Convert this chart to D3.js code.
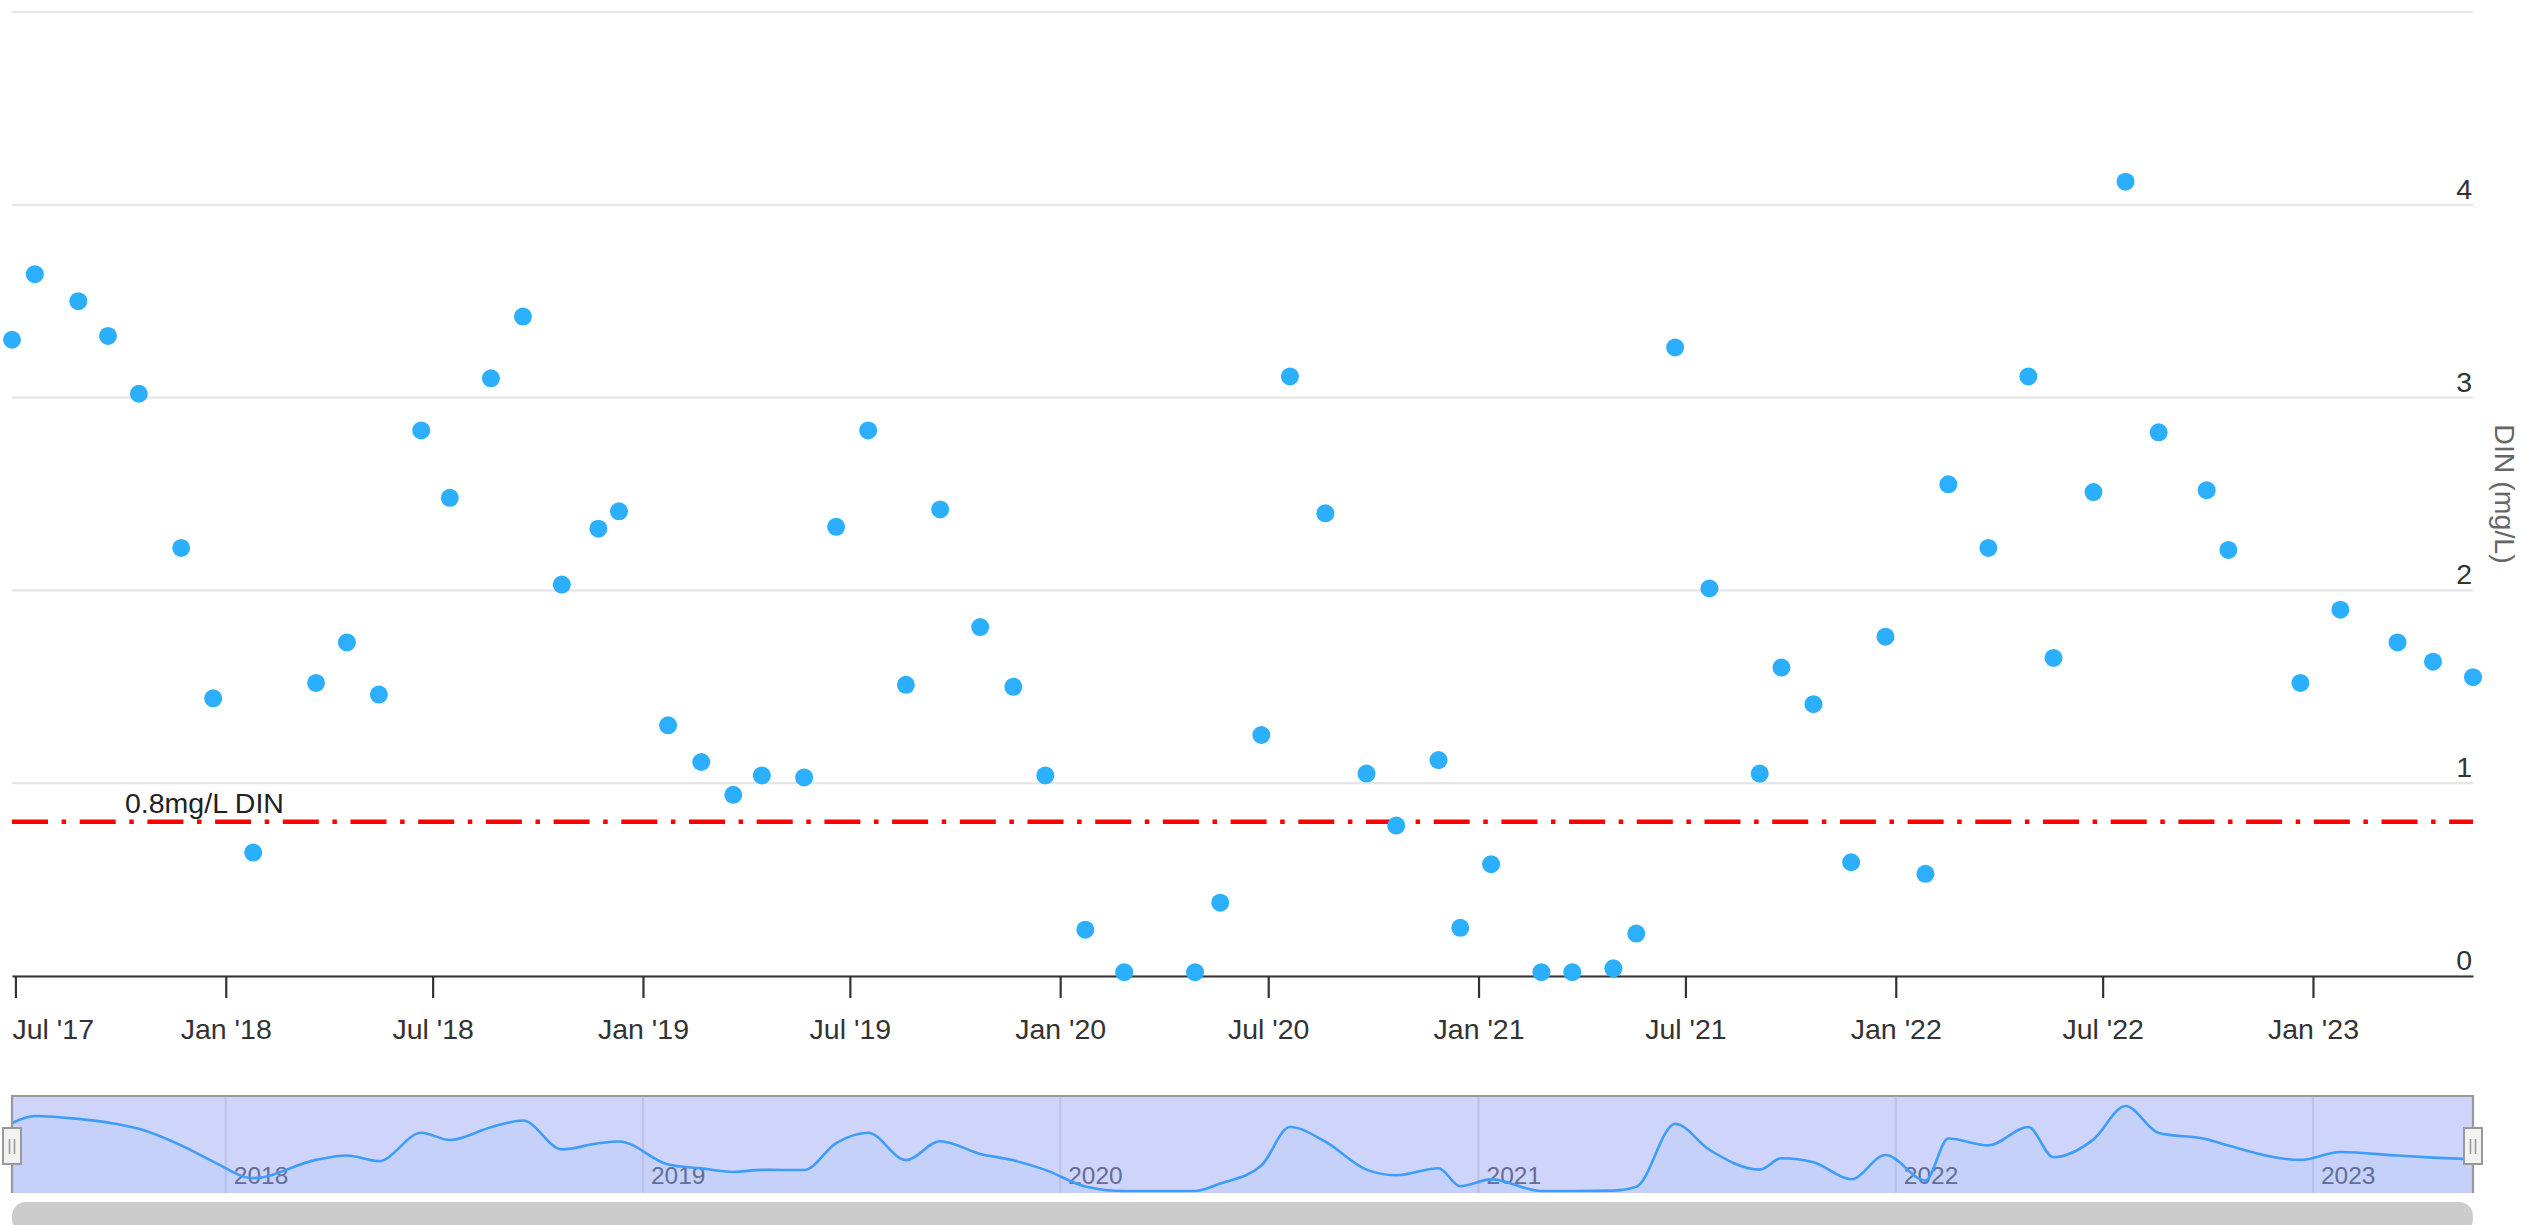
<!DOCTYPE html>
<html>
  <head>
    <meta charset="utf-8" />
    <title>DIN (mg/L)</title>
    <script src="https://d3js.org/d3.v7.min.js"></script>
    <style>
      body { margin: 0; background: #fff; overflow: hidden; }
      svg { display: block; font-family: "Liberation Sans", Arial, sans-serif; }
    </style>
  </head>
  <body>
    <svg width="2521" height="1225"></svg>
    <script>
      // sample dates and DIN values (mg/L)
      const dates = [
        "2017-06-28", "2017-07-18", "2017-08-25", "2017-09-20", "2017-10-17", "2017-11-23", "2017-12-21",
        "2018-01-25", "2018-03-21", "2018-04-17", "2018-05-15", "2018-06-21", "2018-07-16", "2018-08-21",
        "2018-09-18", "2018-10-22", "2018-11-23", "2018-12-11", "2019-01-23", "2019-02-21", "2019-03-21",
        "2019-04-15", "2019-05-22", "2019-06-19", "2019-07-17", "2019-08-19", "2019-09-18", "2019-10-23",
        "2019-11-21", "2019-12-19", "2020-01-23", "2020-02-26", "2020-04-28", "2020-05-20", "2020-06-25",
        "2020-07-20", "2020-08-20", "2020-09-25", "2020-10-21", "2020-11-27", "2020-12-16", "2021-01-12",
        "2021-02-25", "2021-03-24", "2021-04-29", "2021-05-19", "2021-06-22", "2021-07-22", "2021-09-04",
        "2021-09-23", "2021-10-21", "2021-11-23", "2021-12-23", "2022-01-27", "2022-02-16", "2022-03-23",
        "2022-04-27", "2022-05-19", "2022-06-23", "2022-07-21", "2022-08-19", "2022-09-30", "2022-10-19",
        "2022-12-21", "2023-01-25", "2023-03-16", "2023-04-16", "2023-05-21"
      ];
      const din = [
        3.30, 3.64, 3.50, 3.32, 3.02, 2.22, 1.44,
        0.64, 1.52, 1.73, 1.46, 2.83, 2.48, 3.10,
        3.42, 2.03, 2.32, 2.41, 1.30, 1.11, 0.94,
        1.04, 1.03, 2.33, 2.83, 1.51, 2.42, 1.81,
        1.50, 1.04, 0.24, 0.02, 0.02, 0.38, 1.25,
        3.11, 2.40, 1.05, 0.78, 1.12, 0.25, 0.58,
        0.02, 0.02, 0.04, 0.22, 3.26, 2.01, 1.05,
        1.60, 1.41, 0.59, 1.76, 0.53, 2.55, 2.22,
        3.11, 1.65, 2.51, 4.12, 2.82, 2.52, 2.21,
        1.52, 1.90, 1.73, 1.63, 1.55
      ];

      const xTickDates = ["2017-07-01", "2018-01-01", "2018-07-01", "2019-01-01", "2019-07-01", "2020-01-01",
                          "2020-07-01", "2021-01-01", "2021-07-01", "2022-01-01", "2022-07-01", "2023-01-01"];
      const xTickLabels = ["Jul '17", "Jan '18", "Jul '18", "Jan '19", "Jul '19", "Jan '20",
                           "Jul '20", "Jan '21", "Jul '21", "Jan '22", "Jul '22", "Jan '23"];
      const yTicks = [0, 1, 2, 3, 4];
      const yGrid = [0, 1, 2, 3, 4, 5];
      const navYearDates = ["2018-01-01", "2019-01-01", "2020-01-01", "2021-01-01", "2022-01-01", "2023-01-01"];
      const navYearLabels = ["2018", "2019", "2020", "2021", "2022", "2023"];
      const guideValue = 0.8;
      const guideLabel = "0.8mg/L DIN";
      const yTitle = "DIN (mg/L)";

      const svg = d3.select("svg");
      const plotLeft = 12, plotRight = 2473, plotTop = 12, plotBottom = 976;
      const navTop = 1096, navBottom = 1193;
      const blue = "#2caffe";
      const fs = 28.5;

      const parse = d3.utcParse("%Y-%m-%d");
      const pts = dates.map((d, i) => ({ date: parse(d), v: din[i] }));

      const x = d3.scaleUtc().domain(d3.extent(pts, d => d.date)).range([plotLeft, plotRight]);
      const y = d3.scaleLinear().domain([0, 5]).range([plotBottom, plotTop]);

      // horizontal grid
      svg.append("g").selectAll("line").data(yGrid).join("line")
         .attr("x1", plotLeft).attr("x2", plotRight)
         .attr("y1", d => y(d)).attr("y2", d => y(d))
         .attr("stroke", "#e6e6e6").attr("stroke-width", 2.2);

      // y labels on the right, above grid lines
      svg.append("g").selectAll("text").data(yTicks).join("text")
         .attr("x", plotRight - 1).attr("y", d => y(d) - 6)
         .attr("text-anchor", "end")
         .attr("font-size", fs).attr("fill", "#333")
         .text(d => d);

      svg.append("text")
         .attr("transform", "translate(2495," + (plotTop + plotBottom) / 2 + ") rotate(90)")
         .attr("text-anchor", "middle")
         .attr("font-size", fs).attr("fill", "#666")
         .text(yTitle);

      // 0.8 guide line
      svg.append("line")
         .attr("x1", plotLeft).attr("x2", plotRight)
         .attr("y1", y(guideValue)).attr("y2", y(guideValue))
         .attr("stroke", "#ff0000").attr("stroke-width", 4.5)
         .attr("stroke-dasharray", "36,13.6,4.5,13.6");
      svg.append("text")
         .attr("x", 125).attr("y", y(guideValue) - 9)
         .attr("font-size", fs).attr("fill", "#222")
         .text(guideLabel);

      // x axis
      const xAxis = d3.axisBottom(x)
                      .tickValues(xTickDates.map(parse))
                      .tickFormat((d, i) => xTickLabels[i])
                      .tickSize(22).tickSizeOuter(0);
      const gx = svg.append("g")
                    .attr("transform", "translate(0," + plotBottom + ")")
                    .call(xAxis)
                    .attr("font-size", fs).attr("font-family", null)
                    .attr("color", "#333");
      gx.select(".domain").attr("stroke-width", 2.2);
      gx.selectAll(".tick line").attr("stroke-width", 2.2);
      gx.selectAll(".tick text").attr("y", 63).attr("dy", 0).attr("fill", "#333");
      // first label pushed inside the plot like the original
      gx.selectAll(".tick").filter((d, i) => i === 0).select("text")
        .attr("text-anchor", "start")
        .attr("x", d => plotLeft - x(d));

      // points
      svg.append("g").selectAll("circle").data(pts).join("circle")
         .attr("cx", d => x(d.date)).attr("cy", d => y(d.v))
         .attr("r", 9).attr("fill", blue);

      // navigator
      const yn = d3.scaleLinear().domain(d3.extent(din)).range([1191, 1106]);
      const nav = svg.append("g");
      nav.append("rect").attr("x", plotLeft).attr("y", navTop)
         .attr("width", plotRight - plotLeft).attr("height", navBottom - navTop).attr("fill", "#fff");
      nav.append("g").selectAll("line").data(navYearDates).join("line")
         .attr("x1", d => x(parse(d))).attr("x2", d => x(parse(d)))
         .attr("y1", navTop).attr("y2", navBottom)
         .attr("stroke", "#e6e6e6").attr("stroke-width", 2.2);
      nav.append("g").selectAll("text").data(navYearDates).join("text")
         .attr("x", d => x(parse(d)) + 8).attr("y", 1184)
         .attr("font-size", 24.5).attr("fill", "#666")
         .text((d, i) => navYearLabels[i]);

      const navArea = d3.area().curve(d3.curveMonotoneX)
                        .x(d => x(d.date)).y0(navBottom).y1(d => yn(d.v));
      const navLine = d3.line().curve(d3.curveMonotoneX)
                        .x(d => x(d.date)).y(d => yn(d.v));
      nav.append("path").attr("d", navArea(pts)).attr("fill", blue).attr("fill-opacity", 0.05);
      nav.append("path").attr("d", navLine(pts)).attr("fill", "none")
         .attr("stroke", blue).attr("stroke-width", 2.6);

      // selected-range mask
      nav.append("rect").attr("x", plotLeft).attr("y", navTop)
         .attr("width", plotRight - plotLeft).attr("height", navBottom - navTop)
         .attr("fill", "rgba(102,120,240,0.32)");
      nav.append("path")
         .attr("d", "M" + plotLeft + "," + navBottom + "V" + navTop + "H" + plotRight + "V" + navBottom)
         .attr("fill", "none").attr("stroke", "#999").attr("stroke-width", 2.2);

      // handles
      [plotLeft, plotRight].forEach(hx => {
        nav.append("rect").attr("x", hx - 9).attr("y", 1128).attr("width", 18).attr("height", 36)
           .attr("fill", "#f2f2f2").attr("stroke", "#999").attr("stroke-width", 2);
        [-2.5, 2.5].forEach(o => {
          nav.append("line").attr("x1", hx + o).attr("x2", hx + o)
             .attr("y1", 1139).attr("y2", 1154)
             .attr("stroke", "#999").attr("stroke-width", 1.6);
        });
      });

      // scrollbar
      svg.append("rect").attr("x", plotLeft).attr("y", 1202)
         .attr("width", plotRight - plotLeft).attr("height", 31).attr("rx", 14)
         .attr("fill", "#cccccc");
    </script>
  </body>
</html>
